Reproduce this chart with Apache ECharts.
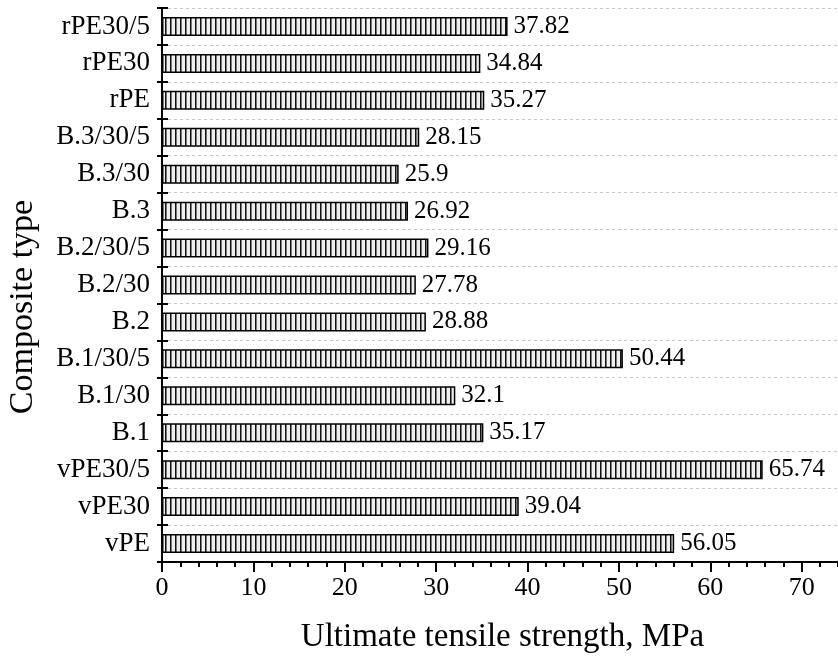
<!DOCTYPE html>
<html>
<head>
<meta charset="utf-8">
<script src="https://cdn.jsdelivr.net/npm/echarts@6/dist/echarts.min.js"></script>
<style>html,body{margin:0;padding:0;background:#fff;}#c{width:838px;height:662px;}</style>
</head>
<body>
<div id="c"></div>
<script>
const categories = ['vPE','vPE30','vPE30/5','B.1','B.1/30','B.1/30/5','B.2','B.2/30','B.2/30/5','B.3','B.3/30','B.3/30/5','rPE','rPE30','rPE30/5'];
const values = [56.05, 39.04, 65.74, 35.17, 32.1, 50.44, 28.88, 27.78, 29.16, 26.92, 25.9, 28.15, 35.27, 34.84, 37.82];
const valueLabels = ['56.05','39.04','65.74','35.17','32.1','50.44','28.88','27.78','29.16','26.92','25.9','28.15','35.27','34.84','37.82'];
const xTicks = [0,10,20,30,40,50,60,70];

const FONT = '"Liberation Serif", "Times New Roman", serif';

// stripe pattern
const pat = document.createElement('canvas');
pat.width = 5; pat.height = 10;
const pc = pat.getContext('2d');
pc.fillStyle = '#efefef'; pc.fillRect(0,0,5,10);
pc.fillStyle = '#111'; pc.fillRect(0,0,1,10);
pc.fillStyle = '#777'; pc.fillRect(1,0,1,10);

const chart = echarts.init(document.getElementById('c'), null, {renderer:'canvas'});
chart.setOption({
  animation: false,
  grid: {left: 162, right: -55, top: 8, bottom: 100, containLabel: false, outerBoundsMode: 'none'},
  xAxis: {
    type: 'value', min: 0, max: 80, interval: 10,
    name: 'Ultimate tensile strength, MPa',
    nameLocation: 'middle', nameGap: 59,
    nameTextStyle: {fontFamily: FONT, fontSize: 33, color: '#000', padding: [0, 50, 0, 0]},
    axisLine: {show: true, lineStyle: {color: '#000', width: 2}},
    axisTick: {show: true, length: 10, lineStyle: {color: '#000', width: 2}},
    minorTick: {show: true, splitNumber: 5, length: 5, lineStyle: {color: '#000', width: 2}},
    axisLabel: {fontFamily: FONT, fontSize: 26, color: '#000', margin: 13,
      formatter: v => xTicks.indexOf(v) >= 0 ? String(v) : ''},
    splitLine: {show: false}
  },
  yAxis: [{
    type: 'category', data: categories,
    name: 'Composite type', nameLocation: 'middle', nameGap: 122,
    nameTextStyle: {fontFamily: FONT, fontSize: 34, color: '#000', padding: [0, 44, 0, 0]},
    axisLine: {show: true, lineStyle: {color: '#000', width: 2}},
    axisTick: {show: true, length: 5, lineStyle: {color: '#000', width: 2}},
    axisLabel: {fontFamily: FONT, fontSize: 27, color: '#000', margin: 12},
    splitLine: {show: true, lineStyle: {color: '#c8c8c8', type: [3,3], width: 1}}
  },{
    type: 'category', data: categories, position: 'left', offset: 0,
    axisLine: {show: false},
    axisTick: {show: true, inside: true, length: 6, lineStyle: {color: '#000', width: 2}},
    axisLabel: {show: false},
    splitLine: {show: false}
  }],
  series: [{
    type: 'bar', data: values, barWidth: 19, yAxisIndex: 0,
    itemStyle: {color: {image: pat, repeat: 'repeat'}, borderColor: '#000', borderWidth: 1.5},
    label: {show: true, position: 'right', distance: 6, fontFamily: FONT, fontSize: 25, color: '#000',
      formatter: p => valueLabels[p.dataIndex]}
  }]
});
</script>
</body>
</html>
